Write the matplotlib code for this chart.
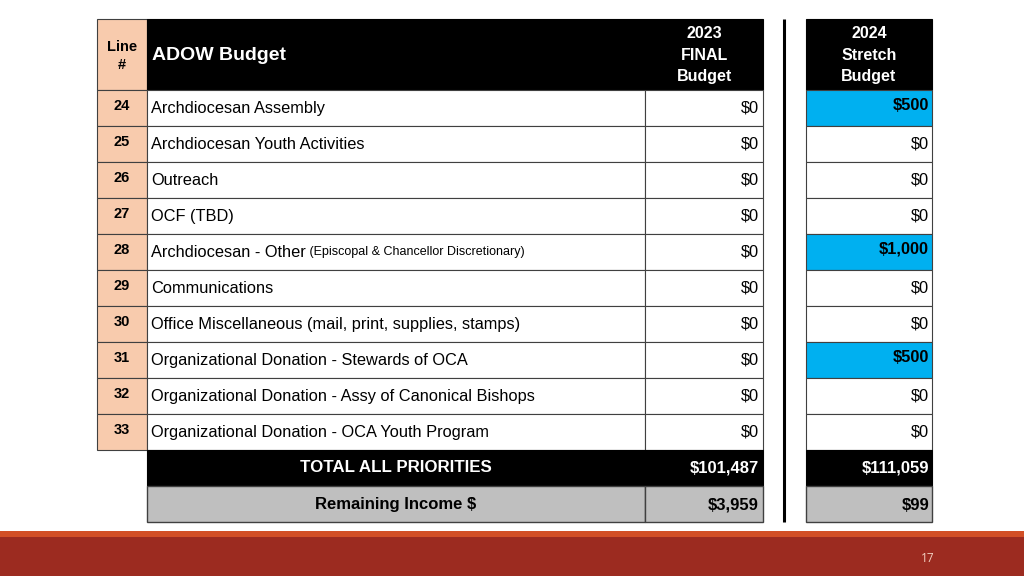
#!/usr/bin/env python3

import matplotlib
matplotlib.use("Agg")
from matplotlib import pyplot as plt
from matplotlib.patches import Rectangle

line_numbers = [24, 25, 26, 27, 28, 29, 30, 31, 32, 33]
descriptions = [
    "Archdiocesan Assembly",
    "Archdiocesan Youth Activities",
    "Outreach",
    "OCF (TBD)",
    "Archdiocesan - Other",
    "Communications",
    "Office Miscellaneous (mail, print, supplies, stamps)",
    "Organizational Donation - Stewards of OCA",
    "Organizational Donation - Assy of Canonical Bishops",
    "Organizational Donation - OCA Youth Program",
]
notes = {4: "(Episcopal & Chancellor Discretionary)"}
budget_2023 = [0, 0, 0, 0, 0, 0, 0, 0, 0, 0]
budget_2024 = [500, 0, 0, 0, 1000, 0, 0, 500, 0, 0]
total_2023 = 101487
total_2024 = 111059
remaining_2023 = 3959
remaining_2024 = 99

FONT = "Liberation Sans"
PEACH = "#F8CBAD"
BLUE = "#00B0F0"
GRAY = "#BFBFBF"
EDGE = "#404040"


def money(v):
    return "${:,}".format(v)


def main():
    fig = plt.figure(figsize=(10.24, 5.76), dpi=100)
    ax = fig.add_axes([0, 0, 1, 1])
    ax.set_xlim(0, 1024)
    ax.set_ylim(576, 0)
    ax.axis("off")

    x_num, x_desc, x_23, x_23r = 97, 147, 645, 763
    x_24, x_24r = 806, 932
    top, head_h, row_h = 19, 71, 36
    y0 = top + head_h

    # header
    ax.add_patch(Rectangle((x_num, top), x_desc - x_num, head_h, fc=PEACH, ec=EDGE, lw=0.8))
    ax.add_patch(Rectangle((x_desc, top), x_23r - x_desc, head_h, fc="black", ec="black", lw=0.8))
    ax.add_patch(Rectangle((x_24, top), x_24r - x_24, head_h, fc="black", ec="black", lw=0.8))
    ax.text((x_num + x_desc) / 2, 56, "Line\n#", ha="center", va="center", fontsize=10.5,
            fontweight="bold", family=FONT, linespacing=1.45)
    ax.text(x_desc + 5, 56, "ADOW Budget", ha="left", va="center", fontsize=14,
            fontweight="bold", family=FONT, color="white")
    ax.text((x_23 + x_23r) / 2, 55, "2023\nFINAL\nBudget", ha="center", va="center",
            fontsize=11.5, fontweight="bold", family=FONT, color="white", linespacing=1.55)
    ax.text((x_24 + x_24r) / 2, 55, "2024\nStretch\nBudget", ha="center", va="center",
            fontsize=11.5, fontweight="bold", family=FONT, color="white", linespacing=1.55)

    for i, (num, desc) in enumerate(zip(line_numbers, descriptions)):
        y = y0 + i * row_h
        yc = y + row_h / 2
        ax.add_patch(Rectangle((x_num, y), x_desc - x_num, row_h, fc=PEACH, ec=EDGE, lw=0.8))
        ax.add_patch(Rectangle((x_desc, y), x_23 - x_desc, row_h, fc="white", ec=EDGE, lw=0.8))
        ax.add_patch(Rectangle((x_23, y), x_23r - x_23, row_h, fc="white", ec=EDGE, lw=0.8))
        v24 = budget_2024[i]
        ax.add_patch(Rectangle((x_24, y), x_24r - x_24, row_h, fc=BLUE if v24 else "white",
                               ec=EDGE, lw=0.8))
        ax.text((x_num + x_desc) / 2, yc - 2, str(num), ha="center", va="center",
                fontsize=10.5, fontweight="bold", family=FONT)
        t = ax.text(x_desc + 4, yc + 0.5, desc, ha="left", va="center", fontsize=11.8, family=FONT)
        if i in notes:
            ax.annotate(" " + notes[i], xycoords=t, xy=(1, 0.5), ha="left", va="center",
                        fontsize=9, family=FONT)
        ax.text(x_23r - 4, yc + 0.5, money(budget_2023[i]), ha="right", va="center",
                fontsize=11.8, family=FONT)
        ax.text(x_24r - 3, yc - (3 if v24 else -0.5), money(v24), ha="right", va="center",
                fontsize=11.8, family=FONT, fontweight="bold" if v24 else "normal")

    # totals
    y = y0 + len(line_numbers) * row_h
    ax.add_patch(Rectangle((x_desc, y), x_23r - x_desc, row_h, fc="black", ec="black", lw=0.8))
    ax.add_patch(Rectangle((x_24, y), x_24r - x_24, row_h, fc="black", ec="black", lw=0.8))
    ax.text(396, y + row_h / 2, "TOTAL ALL PRIORITIES", ha="center", va="center",
            fontsize=12.2, fontweight="bold", family=FONT, color="white")
    ax.text(x_23r - 4, y + row_h / 2, money(total_2023), ha="right", va="center",
            fontsize=12, fontweight="bold", family=FONT, color="white")
    ax.text(x_24r - 3, y + row_h / 2, money(total_2024), ha="right", va="center",
            fontsize=12, fontweight="bold", family=FONT, color="white")

    y += row_h
    ax.add_patch(Rectangle((x_desc, y), x_23 - x_desc, row_h, fc=GRAY, ec=EDGE, lw=1.0))
    ax.add_patch(Rectangle((x_23, y), x_23r - x_23, row_h, fc=GRAY, ec=EDGE, lw=1.0))
    ax.add_patch(Rectangle((x_24, y), x_24r - x_24, row_h, fc=GRAY, ec=EDGE, lw=1.0))
    ax.text(396, y + row_h / 2 + 1, "Remaining Income $", ha="center", va="center",
            fontsize=12, fontweight="bold", family=FONT)
    ax.text(x_23r - 4, y + row_h / 2 + 1, money(remaining_2023), ha="right", va="center",
            fontsize=12, fontweight="bold", family=FONT)
    ax.text(x_24r - 3, y + row_h / 2 + 1, money(remaining_2024), ha="right", va="center",
            fontsize=12, fontweight="bold", family=FONT)

    # divider between years
    ax.plot([784, 784], [top, y + row_h], color="black", lw=2.2, solid_capstyle="butt")

    # footer band
    ax.add_patch(Rectangle((0, 531), 1024, 6, fc="#D24F26", ec="none"))
    ax.add_patch(Rectangle((0, 537), 1024, 39, fc="#9C2B20", ec="none"))
    ax.text(928, 558, "17", ha="center", va="center", fontsize=8.5, family="Open Sans",
            color="#F2D0C0")

    fig.savefig("out.png", dpi=100)


if __name__ == "__main__":
    main()
